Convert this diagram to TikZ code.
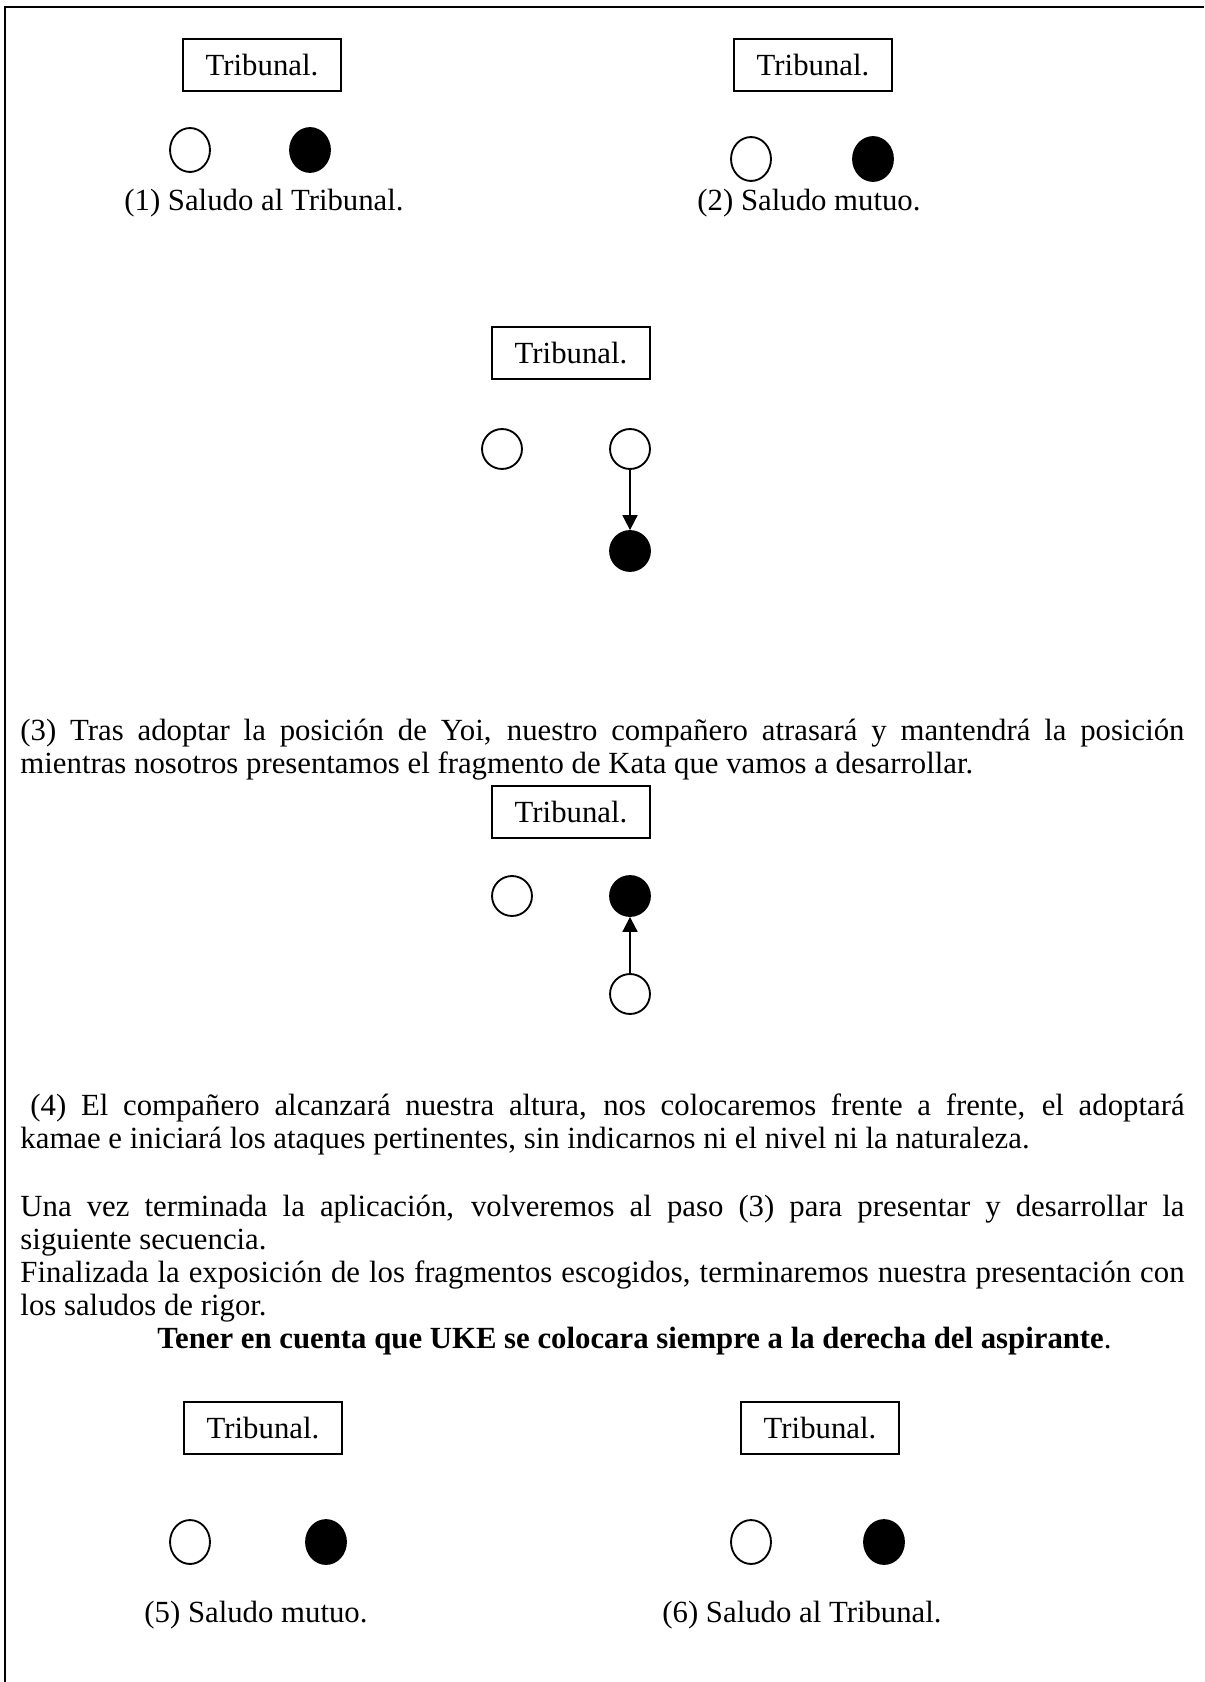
\documentclass[tikz,border=0pt]{standalone}
\usepackage{fontspec}
\setmainfont{Liberation Serif}
\usetikzlibrary{arrows.meta,shapes.geometric}
\begin{document}
\begin{tikzpicture}[x=0.403pt,y=-0.403pt,
  font=\fontsize{12.4}{13.3}\selectfont,
  tbox/.style={draw, line width=0.5pt, minimum width=63.7pt, minimum height=21pt, inner sep=0pt},
  oval/.style={ellipse, draw, line width=0.75pt, minimum width=16.1pt, minimum height=17.7pt, inner sep=0pt},
  ovalfill/.style={oval, fill=black},
  rnd/.style={circle, draw, line width=0.75pt, minimum size=16.1pt, inner sep=0pt},
  rndfill/.style={rnd, fill=black},
  lbl/.style={anchor=base, inner sep=0pt},
  para/.style={anchor=base west, inner sep=0pt, text width=469.1pt, align=justify},
  move/.style={line width=0.75pt, -{Triangle[length=6pt,width=6pt]}},
  frame/.style={line width=0.9pt}
]
\useasboundingbox (0,0) rectangle (1204,1682);
\draw[frame] (5,1682) -- (5,7) -- (1204,7);

% (1)
\node[tbox] (t1) at (262,65) {Tribunal.};
\node[oval] (a1) at (190,150) {};
\node[ovalfill] (b1) at (310,150) {};
\node[lbl] (l1) at (264,211) {(1) Saludo al Tribunal.};

% (2)
\node[tbox] (t2) at (813,65) {Tribunal.};
\node[oval] (a2) at (751,159) {};
\node[ovalfill] (b2) at (873,159) {};
\node[lbl] (l2) at (809,211) {(2) Saludo mutuo.};

% (3)
\node[tbox] (t3) at (571,353) {Tribunal.};
\node[rnd] (a3) at (502,449) {};
\node[rnd] (c3) at (630,449) {};
\node[rndfill] (b3) at (630,551) {};
\draw[move] (c3) -- (b3);
\node[para] (p3) at (20,740) {(3) Tras adoptar la posición de Yoi, nuestro compañero atrasará y mantendrá la posición\linebreak mientras nosotros presentamos el fragmento de Kata que vamos a desarrollar.};

% (4)
\node[tbox] (t4) at (571,812) {Tribunal.};
\node[rnd] (a4) at (512,896) {};
\node[rndfill] (b4) at (630,896) {};
\node[rnd] (c4) at (630,994) {};
\draw[move] (c4) -- (b4);
\node[para] (p4) at (20,1115) {\hspace*{4pt}(4) El compañero alcanzará nuestra altura, nos colocaremos frente a frente, el adoptará\linebreak kamae e iniciará los ataques pertinentes, sin indicarnos ni el nivel ni la naturaleza.};

\node[para] (p5) at (20,1216) {Una vez terminada la aplicación, volveremos al paso (3) para presentar y desarrollar la\linebreak siguiente secuencia.\par Finalizada la exposición de los fragmentos escogidos, terminaremos nuestra presentación con\linebreak los saludos de rigor.};

\node[anchor=base west, inner sep=0pt] (bold) at (157,1348) {\textbf{Tener en cuenta que UKE se colocara siempre a la derecha del aspirante}.};

% (5)
\node[tbox] (t5) at (263,1428) {Tribunal.};
\node[oval] (a5) at (190,1542) {};
\node[ovalfill] (b5) at (326,1542) {};
\node[lbl] (l5) at (256,1622) {(5) Saludo mutuo.};

% (6)
\node[tbox] (t6) at (820,1428) {Tribunal.};
\node[oval] (a6) at (751,1542) {};
\node[ovalfill] (b6) at (884,1542) {};
\node[lbl] (l6) at (802,1622) {(6) Saludo al Tribunal.};
\end{tikzpicture}
\end{document}
